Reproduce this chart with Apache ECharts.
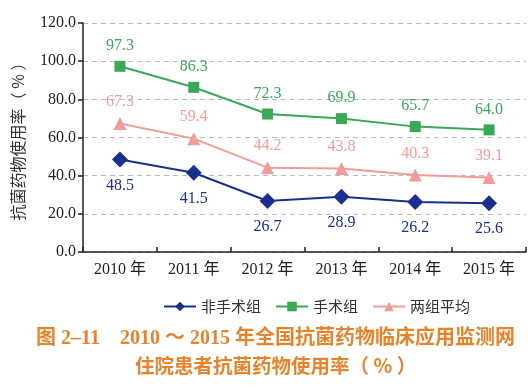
<!DOCTYPE html>
<html><head><meta charset="utf-8">
<script src="https://cdn.jsdelivr.net/npm/echarts@6/dist/echarts.min.js"></script>
<style>html,body{margin:0;padding:0;background:#fff;}#c{width:532px;height:388px;}</style>
</head><body><div id="c"></div>
<script>
const categories = ['2010 年','2011 年','2012 年','2013 年','2014 年','2015 年'];
const nonSurgery = [48.5, 41.5, 26.7, 28.9, 26.2, 25.6];
const surgery = [97.3, 86.3, 72.3, 69.9, 65.7, 64.0];
const average = [67.3, 59.4, 44.2, 43.8, 40.3, 39.1];
const seriesNames = ['非手术组','手术组','两组平均'];
const yAxisName = '抗菌药物使用率（ % ）';
const titleLine1 = '图 2–11　2010 ～ 2015 年全国抗菌药物临床应用监测网';
const titleLine2 = '住院患者抗菌药物使用率（ % ）';

const serif = '"Liberation Serif", "Noto Sans CJK SC", serif';
const cjk = '"Noto Sans CJK SC", "Liberation Serif", sans-serif';
const blue = '#1b2f8e', green = '#3aa957', pink = '#f09c9a', orange = '#e8832c';

const chart = echarts.init(document.getElementById('c'));
function mk(name, data, color, symbol, size, pos, dist) {
  return {
    name, type: 'line', data, symbol, symbolSize: size,
    lineStyle: { color, width: 2 }, itemStyle: { color },
    label: { show: true, position: pos, distance: dist, color, fontFamily: serif, fontSize: 16,
      formatter: p => p.value.toFixed(1) },
    z: 3
  };
}
chart.setOption({
  animation: false,
  grid: { left: 83, right: 6, top: 23, bottom: 136 },
  legend: {
    top: 294, left: 158, itemWidth: 32, itemHeight: 12, itemGap: 14,
    textStyle: { fontFamily: cjk, fontSize: 15, color: '#333' },
    data: seriesNames
  },
  xAxis: {
    type: 'category', data: categories, boundaryGap: true,
    axisLine: { lineStyle: { color: '#222', width: 1.5 } },
    axisTick: { show: true, length: 5, inside: true, lineStyle: { color: '#222', width: 1.5 } },
    axisLabel: { fontFamily: serif, fontSize: 16, color: '#222', margin: 10 }
  },
  yAxis: {
    type: 'value', min: 0, max: 120, interval: 20,
    name: yAxisName, nameLocation: 'middle', nameGap: 57,
    nameTextStyle: { fontFamily: cjk, fontSize: 16, color: '#333' },
    axisLine: { show: true, lineStyle: { color: '#222', width: 1.5 } },
    axisTick: { show: true, length: 5, lineStyle: { color: '#222', width: 1.5 } },
    axisLabel: { fontFamily: serif, fontSize: 16, color: '#222', margin: 7, formatter: v => v.toFixed(1) },
    splitLine: { show: true, lineStyle: { color: '#bbb', type: [5, 4], width: 1 } }
  },
  series: [
    mk(seriesNames[0], nonSurgery, blue, 'diamond', 16, 'bottom', 10),
    mk(seriesNames[1], surgery, green, 'rect', 11, 'top', 7),
    mk(seriesNames[2], average, pink, 'triangle', 13, 'top', 7)
  ],
  graphic: [
    { type: 'text', left: 36, top: 329, style: { text: titleLine1, fill: orange, font: 'bold 20px ' + serif } },
    { type: 'text', left: 135, top: 356, style: { text: titleLine2, fill: orange, font: 'bold 19.5px ' + cjk } }
  ]
});
</script></body></html>
